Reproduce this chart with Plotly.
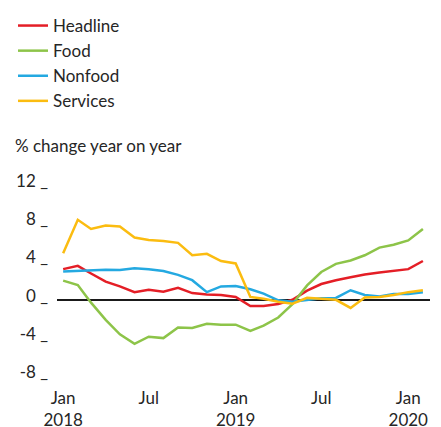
import plotly.graph_objects as go

# monthly observations, Jan 2018 - Feb 2020
months = [
    "2018-01-01", "2018-02-01", "2018-03-01", "2018-04-01", "2018-05-01", "2018-06-01",
    "2018-07-01", "2018-08-01", "2018-09-01", "2018-10-01", "2018-11-01", "2018-12-01",
    "2019-01-01", "2019-02-01", "2019-03-01", "2019-04-01", "2019-05-01", "2019-06-01",
    "2019-07-01", "2019-08-01", "2019-09-01", "2019-10-01", "2019-11-01", "2019-12-01",
    "2020-01-01", "2020-02-01",
]

headline = [3.2, 3.55, 2.75, 1.9, 1.4, 0.8, 1.05, 0.85, 1.25, 0.7, 0.55, 0.5, 0.3,
            -0.65, -0.65, -0.45, 0.0, 0.95, 1.65, 2.05, 2.35, 2.65, 2.85, 3.05, 3.2, 4.05]
food = [2.0, 1.55, -0.3, -2.1, -3.6, -4.6, -3.85, -4.0, -2.9, -2.95, -2.5, -2.6, -2.6,
        -3.25, -2.7, -1.85, -0.45, 1.5, 2.9, 3.75, 4.1, 4.65, 5.45, 5.75, 6.2, 7.4]
nonfood = [2.95, 3.0, 3.05, 3.15, 3.1, 3.3, 3.2, 3.0, 2.6, 2.05, 0.8, 1.4, 1.45,
           1.1, 0.65, -0.05, -0.2, 0.0, 0.15, 0.2, 1.0, 0.5, 0.35, 0.6, 0.6, 0.8]
services = [4.85, 8.35, 7.4, 7.75, 7.65, 6.5, 6.25, 6.15, 5.95, 4.65, 4.8, 4.05, 3.8,
            0.3, 0.1, -0.2, -0.4, 0.2, 0.1, 0.0, -0.85, 0.25, 0.3, 0.5, 0.8, 1.0]

series = [
    ("Headline", headline, "#e41e26"),
    ("Food", food, "#8dc449"),
    ("Nonfood", nonfood, "#24a9e1"),
    ("Services", services, "#fbbc10"),
]

x_ticks = ["2018-01-01", "2018-07-01", "2019-01-01", "2019-07-01", "2020-01-01"]
x_labels = ["Jan<br>2018", "Jul", "Jan<br>2019", "Jul", "Jan<br>2020"]
y_ticks = [-8, -4, 0, 4, 8, 12]
y_labels = ["-8 _", "-4 _", "0 _", "4 _", "8 _", "12 _"]

font = "Lato, 'Open Sans', sans-serif"
text_color = "#262626"

# the page body keeps its default 8px margin, so the figure is 8px smaller
# than the window and all positions below are in figure pixels
W, H = 433, 419

fig = go.Figure()
for name, values, color in series:
    fig.add_trace(go.Scatter(
        x=months, y=values, mode="lines", name=name,
        line=dict(color=color, width=2.5),
    ))

# zero margins, the plot area is placed with axis domains so the legend
# in the top-left corner does not push the margins around
fig.update_layout(
    width=W, height=H,
    margin=dict(l=0, r=0, t=0, b=0),
    paper_bgcolor="white", plot_bgcolor="white",
    font=dict(family=font, size=17, color=text_color),
    showlegend=True,
    legend=dict(
        x=5 / W, y=1.0, xanchor="left", yanchor="top",
        font=dict(size=17), bgcolor="rgba(0,0,0,0)", tracegroupgap=0,
    ),
    annotations=[dict(
        text="% change year on year", xref="paper", yref="paper",
        x=5 / W, y=(H - 138) / H, xanchor="left", yanchor="middle", showarrow=False,
        font=dict(size=17, color=text_color),
    )],
)

fig.update_xaxes(
    type="date", range=["2017-12-19", "2020-02-16"],
    domain=[49 / W, 422 / W],
    tickvals=x_ticks, ticktext=x_labels,
    showgrid=False, showline=False, zeroline=False, ticks="",
    tickfont=dict(size=17), automargin=False,
)
fig.update_yaxes(
    range=[-9, 12.3], domain=[(H - 378) / H, (H - 174) / H],
    tickvals=y_ticks, ticktext=y_labels,
    showgrid=False, showline=False, ticks="",
    zeroline=True, zerolinecolor="#1a1a1a", zerolinewidth=1.5,
    tickfont=dict(size=17), ticklabelshift=-4, ticklabelstandoff=8,
    automargin=False,
)

fig.write_html("out.html")
